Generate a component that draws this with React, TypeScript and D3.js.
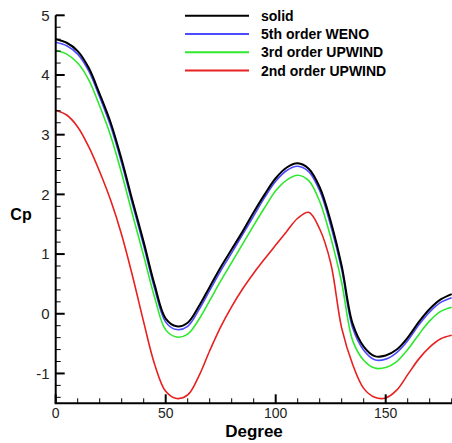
import React from "react";
import * as d3 from "d3";

const degrees = [0,5,10,15,20,25,30,35,40,45,50,55,60,65,70,75,80,85,90,95,100,105,110,115,120,125,130,135,140,145,150,155,160,165,170,175,180];
const solid = [4.60,4.54,4.40,4.12,3.68,3.20,2.58,1.88,1.20,0.48,-0.08,-0.21,-0.15,0.12,0.45,0.78,1.08,1.38,1.70,2.00,2.27,2.45,2.52,2.43,2.12,1.55,0.80,-0.17,-0.55,-0.71,-0.70,-0.60,-0.40,-0.14,0.08,0.24,0.33];
const weno5 = [4.55,4.49,4.35,4.07,3.63,3.14,2.52,1.82,1.14,0.42,-0.14,-0.265,-0.21,0.06,0.39,0.72,1.02,1.33,1.64,1.95,2.22,2.40,2.47,2.38,2.06,1.48,0.74,-0.24,-0.61,-0.77,-0.76,-0.65,-0.45,-0.19,0.03,0.19,0.27];
const upwind3 = [4.41,4.35,4.20,3.92,3.48,2.98,2.35,1.65,0.97,0.27,-0.27,-0.39,-0.34,-0.10,0.22,0.55,0.86,1.17,1.48,1.78,2.06,2.24,2.32,2.23,1.88,1.28,0.52,-0.45,-0.78,-0.91,-0.90,-0.80,-0.60,-0.35,-0.12,0.04,0.11];
const upwind2 = [3.41,3.33,3.13,2.80,2.38,1.90,1.32,0.62,-0.14,-0.85,-1.30,-1.42,-1.36,-1.05,-0.62,-0.22,0.12,0.42,0.68,0.92,1.15,1.38,1.60,1.70,1.42,0.85,-0.24,-0.85,-1.25,-1.40,-1.41,-1.28,-1.02,-0.76,-0.56,-0.42,-0.36];

const seriesNames = ["solid", "5th order WENO", "3rd order UPWIND", "2nd order UPWIND"];
const seriesColors = ["#000000", "#4b4bff", "#2ee82e", "#e82020"];
const seriesData = [solid, weno5, upwind3, upwind2];

const xMajor = [0, 50, 100, 150];
const yMajor = [-1, 0, 1, 2, 3, 4, 5];

export default function App() {
  const W = 452, H = 443;
  const x = d3.scaleLinear().domain([0, 180]).range([55.7, 451.7]);
  const y = d3.scaleLinear().domain([-1.5, 5]).range([403.3, 15.3]);
  const line = d3.line<[number, number]>()
    .x(d => x(d[0]))
    .y(d => y(d[1]))
    .curve(d3.curveCatmullRom.alpha(0.5));
  const xMinor = d3.range(0, 181, 10).filter(v => v % 50 !== 0);
  const yMinor = d3.range(-1.4, 5.0001, 0.2).map(v => Math.round(v * 10) / 10).filter(v => Math.abs(v - Math.round(v)) > 1e-6);
  const font = "Liberation Sans, Arial, sans-serif";
  return (
    <svg width={W} height={H} style={{ position: "absolute", left: 0, top: 0, background: "#fff" }}>
      <rect width={W} height={H} fill="#fff" />
      <defs>
        <clipPath id="plot">
          <rect x={x(0)} y={0} width={x(180) - x(0) + 1} height={y(-1.5)} />
        </clipPath>
      </defs>
      <g clipPath="url(#plot)">
        {seriesData.map((s, i) => (
          <path key={i} d={line(degrees.map((d, j) => [d, s[j]] as [number, number])) || ""}
            fill="none" stroke={seriesColors[i]} strokeWidth={i === 0 ? 2 : 1.6} strokeLinejoin="round" />
        )).reverse()}
      </g>
      {/* axes */}
      <line x1={x(0)} x2={x(0)} y1={y(5)} y2={y(-1.5)} stroke="#000" strokeWidth={2} />
      <line x1={x(0) - 1} x2={W} y1={y(-1.5)} y2={y(-1.5)} stroke="#000" strokeWidth={2} />
      {yMajor.map(v => (
        <g key={"ym" + v}>
          <line x1={x(0)} x2={x(0) + 9} y1={y(v)} y2={y(v)} stroke="#000" strokeWidth={2} />
          <text x={x(0) - 6} y={y(v)} dy="0.35em" textAnchor="end" fontFamily={font} fontSize={15} fill="#222">{v}</text>
        </g>
      ))}
      {yMinor.map(v => (
        <line key={"yn" + v} x1={x(0)} x2={x(0) + 5} y1={y(v)} y2={y(v)} stroke="#000" strokeWidth={1} />
      ))}
      {xMajor.map(v => (
        <g key={"xm" + v}>
          <line x1={x(v)} x2={x(v)} y1={y(-1.5)} y2={y(-1.5) - 9} stroke="#000" strokeWidth={2} />
          <text x={x(v)} y={417.5} textAnchor="middle" fontFamily={font} fontSize={14} fill="#222">{v}</text>
        </g>
      ))}
      {xMinor.map(v => (
        <line key={"xn" + v} x1={x(v)} x2={x(v)} y1={y(-1.5)} y2={y(-1.5) - 5} stroke="#000" strokeWidth={1} />
      ))}
      <text x={254} y={436.5} textAnchor="middle" fontFamily={font} fontSize={17} fontWeight="bold">Degree</text>
      <text x={21} y={220} textAnchor="middle" fontFamily={font} fontSize={16} fontWeight="bold">Cp</text>
      {/* legend */}
      {seriesNames.map((n, i) => (
        <g key={n}>
          <line x1={185} x2={249} y1={15.7 + i * 18.3} y2={15.7 + i * 18.3} stroke={seriesColors[i]} strokeWidth={2} />
          <text x={261} y={15.7 + i * 18.3} dy="0.35em" fontFamily={font} fontSize={14} fontWeight="bold">{n}</text>
        </g>
      ))}
    </svg>
  );
}
